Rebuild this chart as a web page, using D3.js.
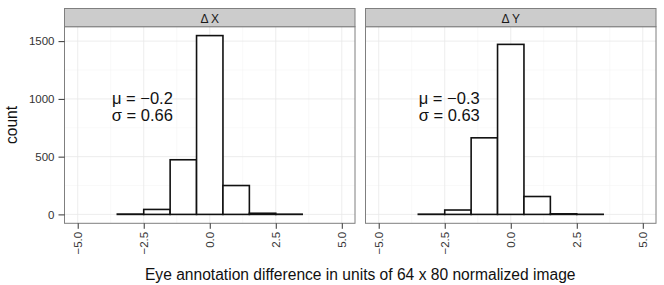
<!DOCTYPE html>
<html>
<head>
<meta charset="utf-8">
<script src="https://cdn.jsdelivr.net/npm/d3@7"></script>
<style>
  body { margin: 0; background: #fff; }
  svg { font-family: "Liberation Sans", Arial, sans-serif; }
</style>
</head>
<body>
<div id="chart"></div>
<script>
// histogram bins (centres, width 1) and counts per facet
const binCentres = [-3, -2, -1, 0, 1, 2, 3];
const countsDX = [3, 43, 473, 1548, 250, 10, 2];
const countsDY = [2, 38, 663, 1472, 155, 5, 1];
const facetLabels = ["\u0394 X", "\u0394 Y"];
const meanLabels = ["\u03bc = \u22120.2", "\u03bc = \u22120.3"];
const sdLabels = ["\u03c3 = 0.66", "\u03c3 = 0.63"];
const annoX = [-2.55, -2.33];   // where the text sits, in data units
const xTicks = [-5, -2.5, 0, 2.5, 5];
const yTicks = [0, 500, 1000, 1500];

const W = 664, H = 285;
const panels = [
  { x0: 64.5, x1: 355, counts: countsDX },
  { x0: 365.5, x1: 656, counts: countsDY }
];
const stripTop = 8.5, plotTop = 26.7, plotBottom = 223.3;

const svg = d3.select("#chart").append("svg")
  .attr("width", W).attr("height", H);

const y = d3.scaleLinear().domain([-77, 1625]).range([plotBottom, plotTop]);
const fmtX = d => d3.format(".1f")(d).replace("-", "\u2212");

panels.forEach((p, i) => {
  const x = d3.scaleLinear().domain([-5.5, 5.5]).range([p.x0, p.x1]);
  const g = svg.append("g");

  // minor + major grid
  const minorX = d3.range(-6.25, 6.3, 2.5).filter(v => v > -5.5 && v < 5.5);
  const minorY = [250, 750, 1250];
  g.selectAll(".mx").data(minorX).join("line").attr("class", "mx")
    .attr("x1", d => x(d)).attr("x2", d => x(d))
    .attr("y1", plotTop).attr("y2", plotBottom)
    .attr("stroke", "#f5f5f5").attr("stroke-width", 0.6);
  g.selectAll(".my").data(minorY).join("line").attr("class", "my")
    .attr("x1", p.x0).attr("x2", p.x1)
    .attr("y1", d => y(d)).attr("y2", d => y(d))
    .attr("stroke", "#f5f5f5").attr("stroke-width", 0.6);
  g.selectAll(".gx").data(xTicks).join("line").attr("class", "gx")
    .attr("x1", d => x(d)).attr("x2", d => x(d))
    .attr("y1", plotTop).attr("y2", plotBottom)
    .attr("stroke", "#e8e8e8").attr("stroke-width", 0.8);
  g.selectAll(".gy").data(yTicks).join("line").attr("class", "gy")
    .attr("x1", p.x0).attr("x2", p.x1)
    .attr("y1", d => y(d)).attr("y2", d => y(d))
    .attr("stroke", "#e8e8e8").attr("stroke-width", 0.8);

  // bars
  g.selectAll(".bar").data(binCentres.map((c, k) => ({ c, n: p.counts[k] })))
    .join("rect").attr("class", "bar")
    .attr("x", d => x(d.c - 0.5))
    .attr("width", d => x(d.c + 0.5) - x(d.c - 0.5))
    .attr("y", d => y(d.n))
    .attr("height", d => y(0) - y(d.n))
    .attr("fill", "#fff").attr("stroke", "#111").attr("stroke-width", 1.6);

  // annotation
  const t = g.append("text")
    .attr("text-anchor", "middle")
    .attr("font-size", 16.5).attr("fill", "#111");
  t.append("tspan").attr("x", x(annoX[i])).attr("y", y(958)).text(meanLabels[i]);
  t.append("tspan").attr("x", x(annoX[i])).attr("y", y(808)).text(sdLabels[i]);

  // panel border
  g.append("rect")
    .attr("x", p.x0).attr("y", plotTop)
    .attr("width", p.x1 - p.x0).attr("height", plotBottom - plotTop)
    .attr("fill", "none").attr("stroke", "#7f7f7f").attr("stroke-width", 1);

  // strip
  g.append("rect")
    .attr("x", p.x0).attr("y", stripTop)
    .attr("width", p.x1 - p.x0).attr("height", plotTop - stripTop)
    .attr("fill", "#cccccc").attr("stroke", "#7f7f7f").attr("stroke-width", 1);
  g.append("text")
    .attr("x", (p.x0 + p.x1) / 2).attr("y", 22.5)
    .attr("text-anchor", "middle").attr("font-size", 12).attr("fill", "#1a1a1a")
    .text(facetLabels[i]);

  // x axis
  const xAxis = g.append("g")
    .attr("transform", `translate(0,${plotBottom})`)
    .call(d3.axisBottom(x).tickValues(xTicks).tickSize(5.5).tickSizeOuter(0).tickFormat(fmtX));
  xAxis.select(".domain").remove();
  xAxis.selectAll("line").attr("stroke", "#333");
  xAxis.selectAll("text")
    .attr("transform", "rotate(-90)")
    .attr("text-anchor", "end")
    .attr("x", -8.5).attr("y", 0).attr("dy", "0.35em")
    .attr("font-size", 11.5).attr("fill", "#333")
    .attr("font-family", "Liberation Sans, Arial, sans-serif");
});

// y axis (left panel only)
const yAxis = svg.append("g")
  .attr("transform", `translate(${panels[0].x0},0)`)
  .call(d3.axisLeft(y).tickValues(yTicks).tickFormat(d3.format("d"))
    .tickSize(6).tickSizeOuter(0).tickPadding(4));
yAxis.select(".domain").remove();
yAxis.selectAll("line").attr("stroke", "#333");
yAxis.selectAll("text").attr("font-size", 11.5).attr("fill", "#333")
  .attr("font-family", "Liberation Sans, Arial, sans-serif");

// axis titles
svg.append("text")
  .attr("x", (panels[0].x0 + panels[1].x1) / 2).attr("y", 280)
  .attr("text-anchor", "middle").attr("font-size", 15.6).attr("fill", "#111")
  .text("Eye annotation difference in units of 64 x 80 normalized image");
svg.append("text")
  .attr("transform", `translate(17,${(plotTop + plotBottom) / 2}) rotate(-90)`)
  .attr("text-anchor", "middle").attr("font-size", 15.6).attr("fill", "#111")
  .text("count");
</script>
</body>
</html>
